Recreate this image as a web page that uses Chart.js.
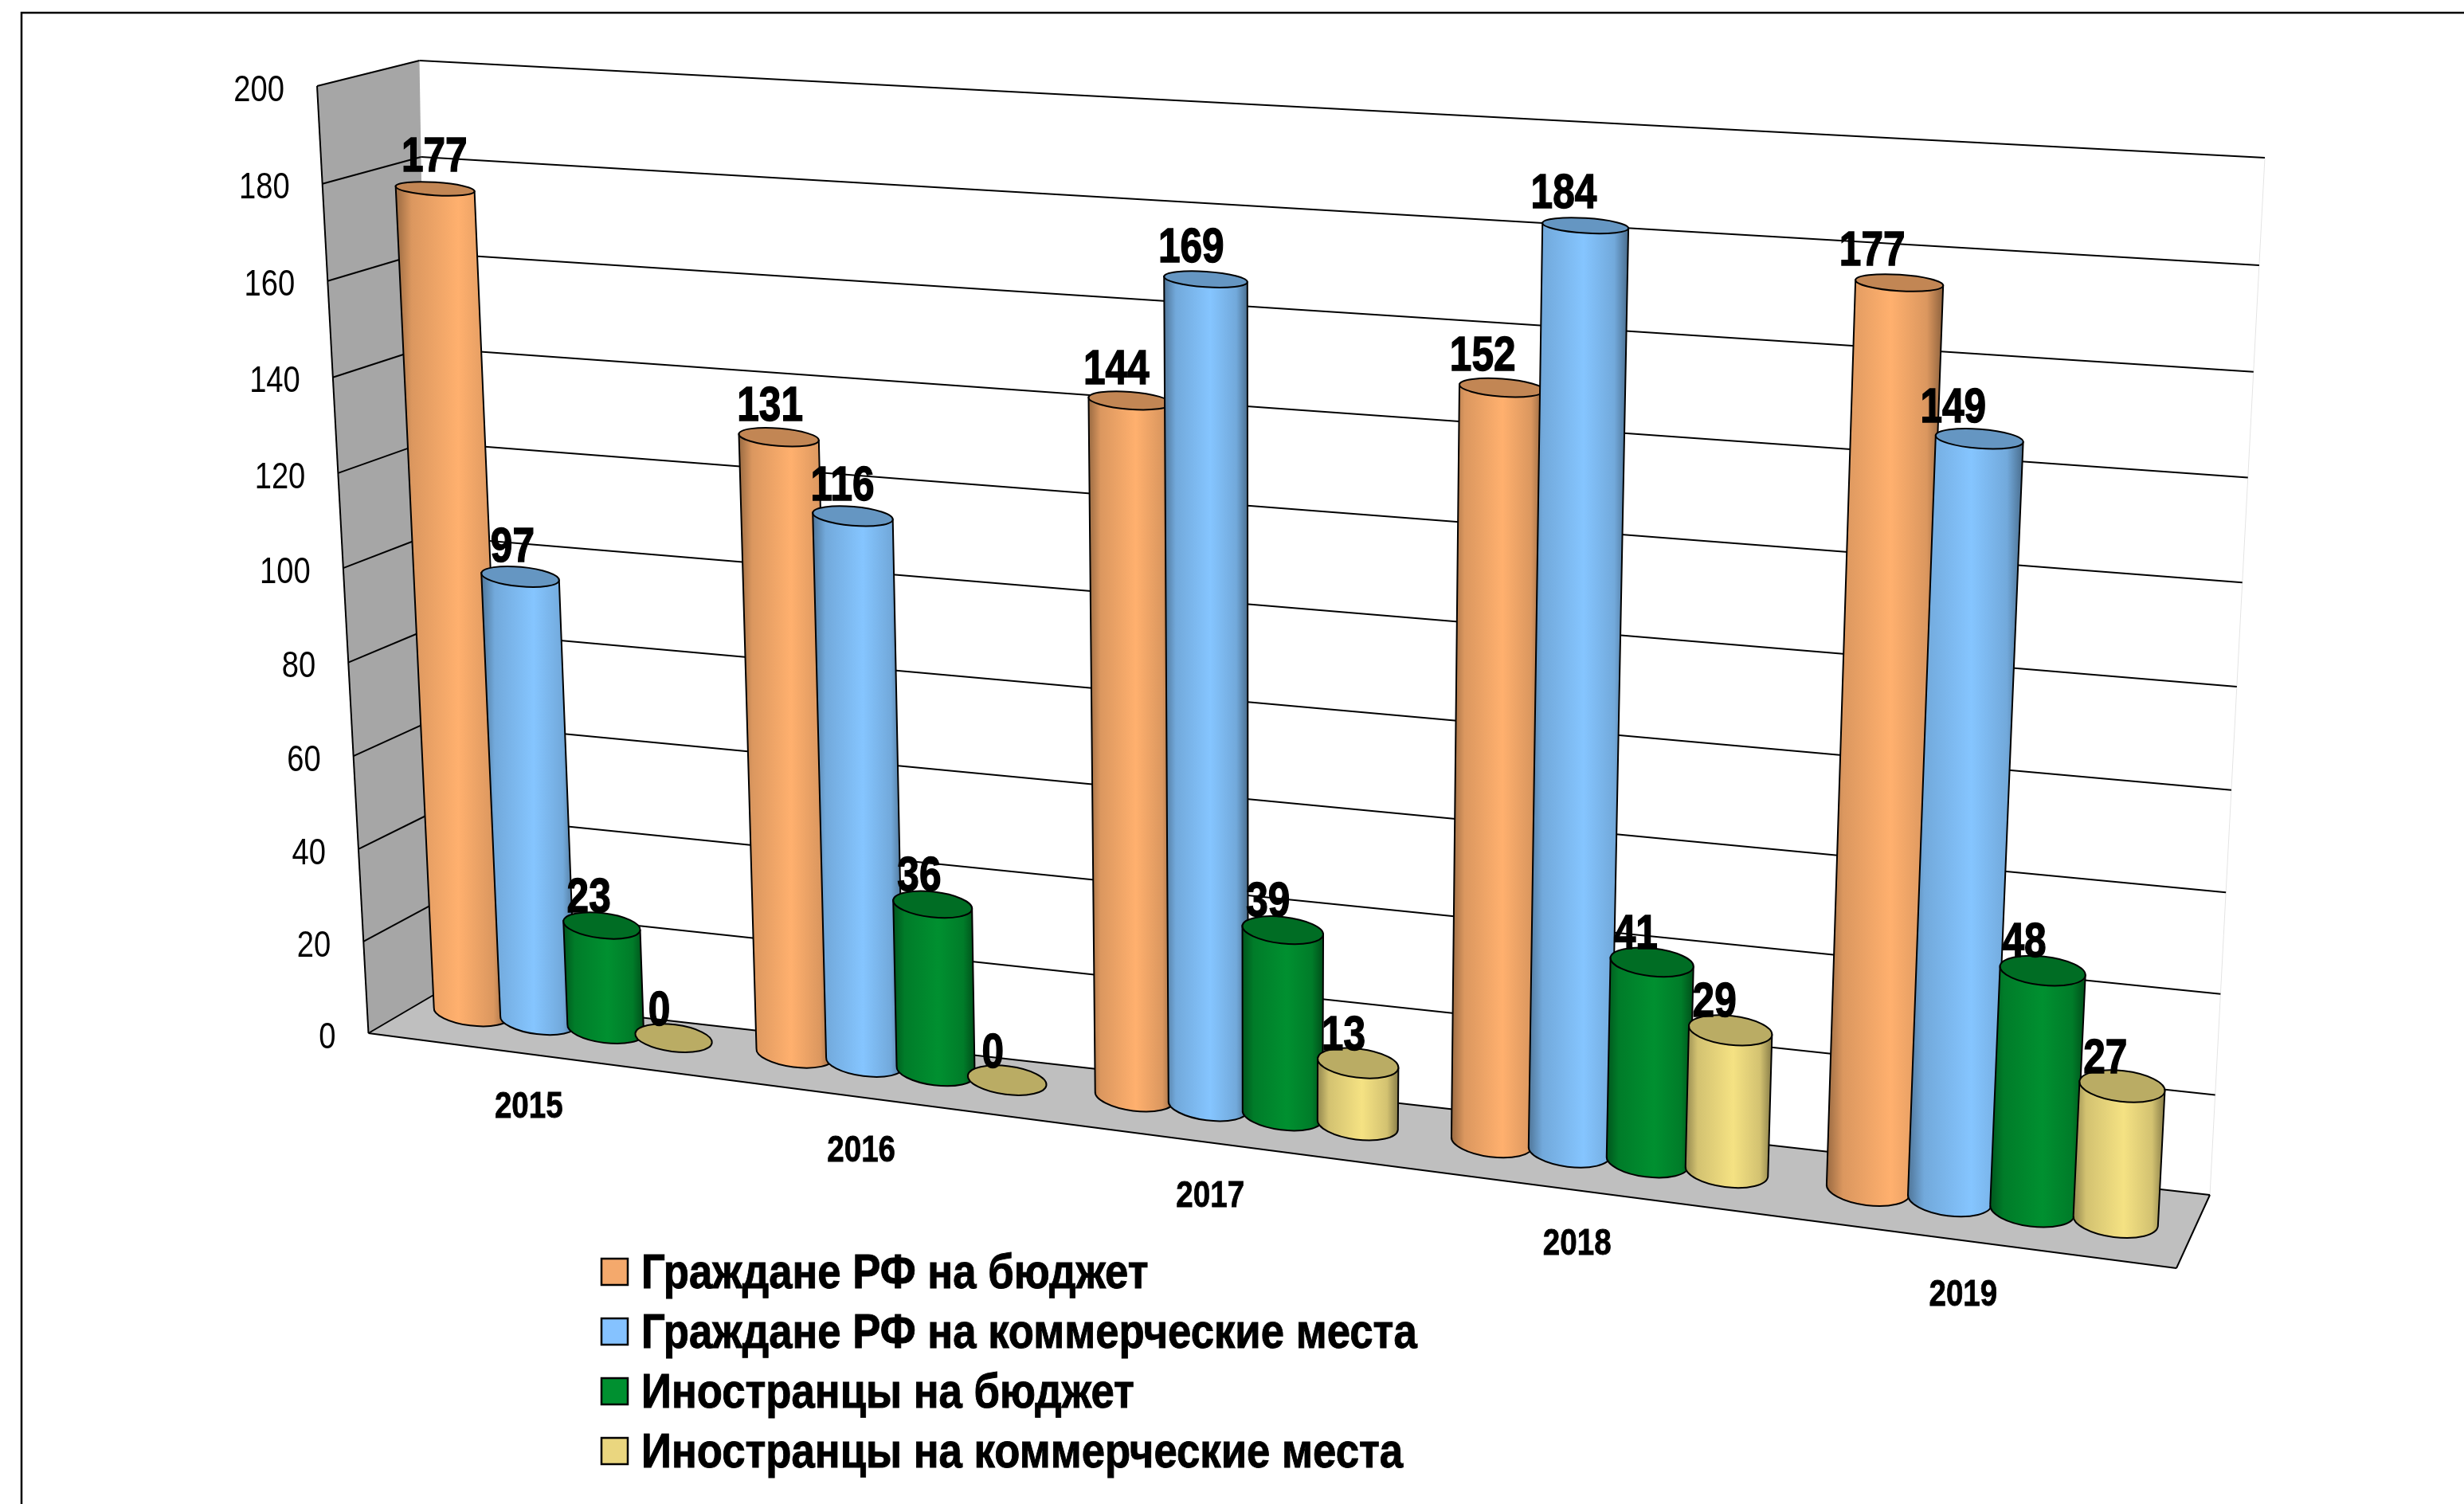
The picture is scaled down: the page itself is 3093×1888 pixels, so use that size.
<!DOCTYPE html>
<html lang="ru">
<head>
<meta charset="utf-8">
<title>Граждане РФ и иностранцы</title>
<script src="https://cdn.jsdelivr.net/npm/chart.js@4"></script>
<style>
  html, body { margin: 0; padding: 0; background: #fff; }
  canvas { display: block; }
</style>
</head>
<body>
<canvas id="chart" width="3093" height="1888"></canvas>
<script>
// ----------- DATA -----------
const years = ['2015', '2016', '2017', '2018', '2019'];
const seriesNames = [
  'Граждане РФ на бюджет',
  'Граждане РФ на коммерческие места',
  'Иностранцы на бюджет',
  'Иностранцы на коммерческие места'
];
const citizensBudget = [177, 131, 144, 152, 177];
const citizensPaid = [97, 116, 169, 184, 149];
const foreignBudget = [23, 36, 39, 41, 48];
const foreignPaid = [0, 0, 13, 29, 27];
const seriesColors = ['#FFB06E', '#85C5FF', '#009030', '#F5E283'];
const legendColors = ['#F4A96C', '#85C2FF', '#009030', '#EAD67F'];

// ----------- 3D BOX LAYOUT (screen corners: TL, TR, BR, BL) -----------
const backWallQuad = [[526.5, 76], [2843, 198], [2774, 1500], [546, 1248]];
const sideWallQuad = [[398, 108], [526.5, 76], [546, 1248], [462.5, 1297]];
const floorQuad = [[546, 1248], [2774, 1500], [2732, 1592], [462.5, 1297]];
// plane the cylinders stand in: first/last orange bar, from value 177 down to 0
const barPlaneQuad = [[546, 237], [2384, 355], [2345, 1493], [592, 1271]];

const FONT = '"Liberation Sans", Arial, sans-serif';

// unit square -> quad (projective)
function quadMap(q) {
  const [p0, p1, p2, p3] = q;
  const dx1 = p1[0] - p2[0], dx2 = p3[0] - p2[0], sx = p0[0] - p1[0] + p2[0] - p3[0];
  const dy1 = p1[1] - p2[1], dy2 = p3[1] - p2[1], sy = p0[1] - p1[1] + p2[1] - p3[1];
  const den = dx1 * dy2 - dx2 * dy1;
  const g = (sx * dy2 - dx2 * sy) / den;
  const h = (dx1 * sy - sx * dy1) / den;
  const a = p1[0] - p0[0] + g * p1[0], b = p3[0] - p0[0] + h * p3[0];
  const d = p1[1] - p0[1] + g * p1[1], e = p3[1] - p0[1] + h * p3[1];
  return (u, v) => {
    const w = g * u + h * v + 1;
    return { x: (a * u + b * v + p0[0]) / w, y: (d * u + e * v + p0[1]) / w };
  };
}

function shade(hex, f) {
  const n = parseInt(hex.slice(1), 16);
  const c = [n >> 16, (n >> 8) & 255, n & 255].map(v => Math.round(v * f));
  return `rgb(${c[0]},${c[1]},${c[2]})`;
}

function poly(ctx, pts) {
  ctx.beginPath();
  pts.forEach((p, i) => i ? ctx.lineTo(p[0], p[1]) : ctx.moveTo(p[0], p[1]));
  ctx.closePath();
}

function line(ctx, a, b) {
  ctx.beginPath();
  ctx.moveTo(a.x, a.y);
  ctx.lineTo(b.x, b.y);
  ctx.stroke();
}

// the reference uses a narrow face, no such font here: squeeze the text sideways
function narrowText(ctx, text, x, y, squeeze, heavy) {
  ctx.save();
  ctx.translate(x, y);
  ctx.scale(squeeze, 1);
  ctx.fillStyle = '#000';
  ctx.fillText(text, 0, 0);
  if (heavy) {
    ctx.strokeStyle = '#000';
    ctx.lineWidth = heavy;
    ctx.strokeText(text, 0, 0);
  }
  ctx.restore();
}

// ----------- PROJECTION OF CHART COORDS -----------
function barPlane(chart) {
  const yS = chart.scales.y;
  const first = chart.getDatasetMeta(0).data[0].x;
  const last = chart.getDatasetMeta(0).data[years.length - 1].x;
  const top = yS.getPixelForValue(177), bottom = yS.getPixelForValue(0);
  const map = quadMap(barPlaneQuad);
  const project = (px, py) => map((px - first) / (last - first), (py - top) / (bottom - top));
  project.along = px => (px - first) / (last - first);
  return project;
}

function cylinderEnds(project, el) {
  // widths grow a little less to the right than pure perspective would give
  const half = el.width / 2 * (1 - 0.1 * project.along(el.x));
  const end = (py) => {
    const l = project(el.x - half, py);
    const r = project(el.x + half, py);
    const rx = Math.hypot(r.x - l.x, r.y - l.y) / 2;
    const cx = (l.x + r.x) / 2, cy = (l.y + r.y) / 2;
    return { l, r, cx, cy, rx, ry: rx * (0.125 + 0.000172 * cy), rot: Math.atan2(r.y - l.y, r.x - l.x) };
  };
  return { top: end(el.y), bottom: end(el.base) };
}

function drawCylinder(ctx, project, el, color) {
  const { top, bottom } = cylinderEnds(project, el);
  ctx.strokeStyle = '#000';
  ctx.lineWidth = 2;
  if (el.base - el.y > 0.5) {
    const grad = ctx.createLinearGradient(Math.min(top.l.x, bottom.l.x), 0, Math.max(top.r.x, bottom.r.x), 0);
    grad.addColorStop(0, shade(color, 0.6));
    grad.addColorStop(0.14, shade(color, 0.86));
    grad.addColorStop(0.55, shade(color, 1));
    grad.addColorStop(0.86, shade(color, 0.86));
    grad.addColorStop(1, shade(color, 0.55));
    ctx.beginPath();
    ctx.moveTo(top.l.x, top.l.y);
    ctx.lineTo(bottom.l.x, bottom.l.y);
    ctx.ellipse(bottom.cx, bottom.cy, bottom.rx, bottom.ry, bottom.rot, Math.PI, 0, true);
    ctx.lineTo(top.r.x, top.r.y);
    ctx.closePath();
    ctx.fillStyle = grad;
    ctx.fill();
    ctx.stroke();
  }
  ctx.beginPath();
  ctx.ellipse(top.cx, top.cy, top.rx, top.ry, top.rot, 0, Math.PI * 2);
  ctx.fillStyle = shade(color, 0.76);
  ctx.fill();
  ctx.stroke();
}

// ----------- PLUGIN: BOX, GRID, AXIS TEXT -----------
const boxPlugin = {
  id: 'box3d',
  beforeDatasetsDraw(chart) {
    const ctx = chart.ctx;
    const yS = chart.scales.y, xS = chart.scales.x;
    const v = val => (yS.getPixelForValue(val) - yS.top) / (yS.bottom - yS.top);
    const back = quadMap(backWallQuad);
    const project = barPlane(chart);
    // front edge of the side wall spaces its ticks like the back wall does
    const frontEdge = vv => {
      const b = back(0, vv), t0 = back(0, 0), t1 = back(0, 1);
      const t = (b.y - t0.y) / (t1.y - t0.y);
      const [a, c] = [sideWallQuad[0], sideWallQuad[3]];
      return { x: a[0] + (c[0] - a[0]) * t, y: a[1] + (c[1] - a[1]) * t };
    };

    // frame of the picture (open on the right and at the bottom)
    ctx.save();
    ctx.strokeStyle = '#000';
    ctx.lineWidth = 2.5;
    ctx.beginPath();
    ctx.moveTo(27, 1888);
    ctx.lineTo(27, 16);
    ctx.lineTo(3093, 16);
    ctx.stroke();

    // walls and floor
    ctx.fillStyle = '#A6A6A6';
    poly(ctx, sideWallQuad);
    ctx.fill();
    ctx.fillStyle = '#BFBFBF';
    poly(ctx, floorQuad);
    ctx.fill();
    ctx.strokeStyle = '#E4E4E4';
    ctx.lineWidth = 1;
    line(ctx, back(1, 0), back(1, 1));

    ctx.strokeStyle = '#000';
    ctx.lineWidth = 2;
    line(ctx, frontEdge(0), frontEdge(1));
    line(ctx, { x: floorQuad[3][0], y: floorQuad[3][1] }, { x: floorQuad[2][0], y: floorQuad[2][1] });
    line(ctx, { x: floorQuad[2][0], y: floorQuad[2][1] }, { x: floorQuad[1][0], y: floorQuad[1][1] });

    // grid and value labels, from the value scale
    ctx.font = '46px ' + FONT;
    ctx.textAlign = 'right';
    ctx.textBaseline = 'middle';
    yS.ticks.forEach(t => {
      const vv = v(t.value);
      const p = frontEdge(vv);
      line(ctx, back(0, vv), back(1, vv));
      line(ctx, p, back(0, vv));
      narrowText(ctx, String(t.value), p.x - 41, p.y + 6, 0.83);
    });

    // year labels on the floor, from the category scale
    ctx.font = 'bold 47px ' + FONT;
    ctx.textAlign = 'center';
    years.forEach((label, i) => {
      const p = project(xS.getPixelForTick(i), yS.getPixelForValue(-18.5));
      narrowText(ctx, label, p.x - 58 + 7 * i, p.y, 0.82, 0.8);
    });

    // cylinders: series order, later ones in front
    chart.data.datasets.forEach((ds, d) => {
      chart.getDatasetMeta(d).data.forEach(el => {
        drawCylinder(ctx, project, el, ds.backgroundColor);
      });
    });

    // value labels
    ctx.font = 'bold 62px ' + FONT;
    chart.data.datasets.forEach((ds, d) => {
      chart.getDatasetMeta(d).data.forEach((el, i) => {
        const { top } = cylinderEnds(project, el);
        const val = ds.data[i];
        const dx = -(18 + (val / 177) * (top.cx - 1500) * 0.018);
        const dy = -(33 + val * 0.035);
        narrowText(ctx, String(val), top.cx + dx, top.cy + dy, 0.8, 1.5);
      });
    });

    // legend
    ctx.textAlign = 'left';
    ctx.textBaseline = 'alphabetic';
    ctx.font = 'bold 62px ' + FONT;
    seriesNames.forEach((name, i) => {
      const y = 1580 + i * 75;
      ctx.fillStyle = legendColors[i];
      ctx.fillRect(755, y, 33, 33);
      ctx.strokeStyle = '#000';
      ctx.lineWidth = 2.5;
      ctx.strokeRect(755, y, 33, 33);
      narrowText(ctx, name, 805, y + 37, 0.85, 1);
    });
    ctx.restore();
    return false; // cylinders replace the flat bars
  }
};

// ----------- CHART -----------
const seriesValues = [citizensBudget, citizensPaid, foreignBudget, foreignPaid];

new Chart(document.getElementById('chart').getContext('2d'), {
  type: 'bar',
  plugins: [boxPlugin],
  data: {
    labels: years,
    datasets: seriesNames.map((name, i) => ({
      label: name,
      data: seriesValues[i],
      backgroundColor: seriesColors[i],
      categoryPercentage: 0.84,
      barPercentage: 1.14
    }))
  },
  options: {
    responsive: false,
    animation: false,
    devicePixelRatio: 1,
    layout: { padding: 0 },
    plugins: { legend: { display: false }, tooltip: { enabled: false }, title: { display: false } },
    scales: {
      x: { grid: { display: false }, border: { display: false }, ticks: { display: false } },
      y: {
        min: 0, max: 200,
        grid: { display: false }, border: { display: false },
        ticks: { display: false, stepSize: 20 }
      }
    }
  }
});
</script>
</body>
</html>
